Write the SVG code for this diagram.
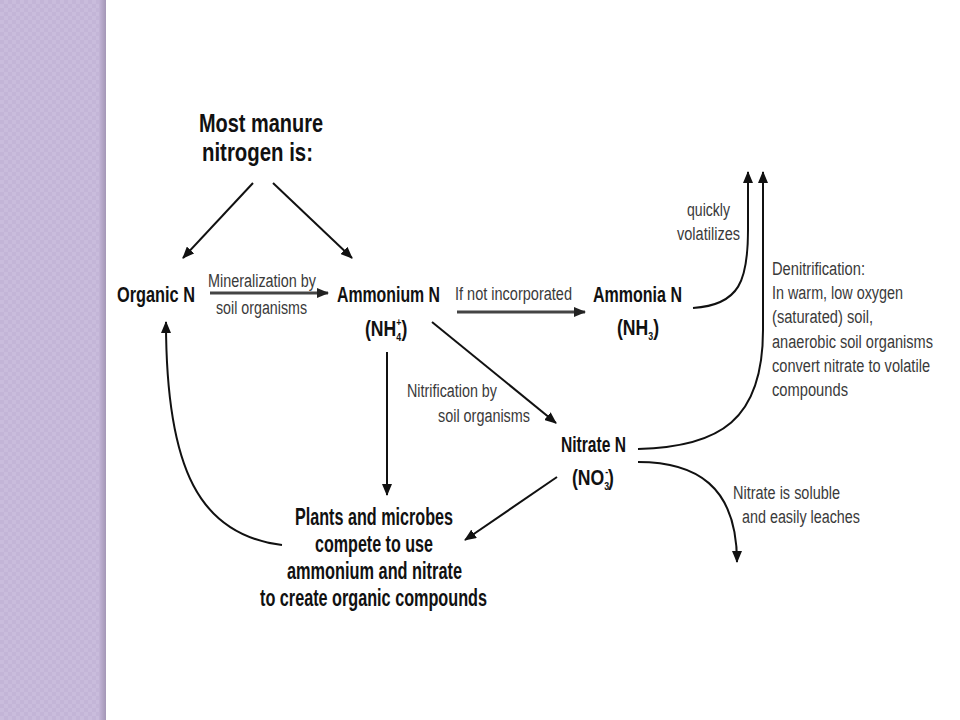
<svg xmlns="http://www.w3.org/2000/svg" width="960" height="720" viewBox="0 0 960 720">
<defs>
<pattern id="chk" width="8" height="8" patternUnits="userSpaceOnUse">
<rect width="8" height="8" fill="#c9bcdc"/>
<rect width="4" height="4" fill="#c3b5d7"/>
<rect x="4" y="4" width="4" height="4" fill="#c3b5d7"/>
</pattern>
<linearGradient id="edge" x1="0" x2="1" y1="0" y2="0">
<stop offset="0" stop-color="#c3b5d7"/>
<stop offset="1" stop-color="#a497b6"/>
</linearGradient>
<marker id="ah" viewBox="0 0 12 10" refX="11" refY="5" markerWidth="12" markerHeight="10" markerUnits="userSpaceOnUse" orient="auto">
<path d="M0,0 L12,5 L0,10 Z" fill="#111"/>
</marker>
<marker id="ahg" viewBox="0 0 12 10" refX="11" refY="5" markerWidth="12" markerHeight="10" markerUnits="userSpaceOnUse" orient="auto">
<path d="M0,0 L12,5 L0,10 Z" fill="#222"/>
</marker>
</defs>
<style>
.t{font-family:"Liberation Sans Narrow","Liberation Sans",Arial,sans-serif;font-weight:bold;fill:#111}
.ti{font-size:26px}
.nd{font-size:22px}
.pl{font-size:23px}
.sm{font-family:"Liberation Sans Narrow","Liberation Sans",Arial,sans-serif;font-size:18px;fill:#3a3a3a}
.sub{font-size:11px}
.ln{fill:none;stroke:#111;stroke-width:2}
.lg{fill:none;stroke:#444;stroke-width:3}
</style>
<rect width="960" height="720" fill="#fff"/>
<g id="sidebar">
<rect x="0" y="0" width="106" height="720" fill="url(#chk)"/>
<rect x="99" y="0" width="7" height="720" fill="url(#edge)"/>
</g>
<g id="connectors">
<path class="ln" d="M253,183 L183,258" marker-end="url(#ah)"/>
<path class="ln" d="M273,183 L352,258" marker-end="url(#ah)"/>
<path class="lg" d="M210,293 L328,293" marker-end="url(#ahg)"/>
<path class="lg" d="M457,312 L585,312" marker-end="url(#ahg)"/>
<path class="ln" d="M432,322 L556,423" marker-end="url(#ah)"/>
<path class="ln" d="M387,352 L387,495" marker-end="url(#ah)"/>
<path class="ln" d="M557,477 L465,540" marker-end="url(#ah)"/>
<path class="ln" d="M282,545 C200,535 166,470 166,322" marker-end="url(#ah)"/>
<path class="ln" d="M693,308 C740,305 748,280 748,230 L748,172" marker-end="url(#ah)"/>
<path class="ln" d="M638,449 C720,447 763,420 763,330 L763,172" marker-end="url(#ah)"/>
<path class="ln" d="M638,462 C695,462 737,485 737,562" marker-end="url(#ah)"/>
</g>
<g id="title">
<text class="t ti" x="199" y="132" textLength="124" lengthAdjust="spacingAndGlyphs">Most manure</text>
<text class="t ti" x="202" y="161" textLength="111" lengthAdjust="spacingAndGlyphs">nitrogen is:</text>
</g>
<g id="organic-n">
<text class="t nd" x="117" y="302" textLength="78" lengthAdjust="spacingAndGlyphs">Organic N</text>
</g>
<g id="mineralization-label">
<text class="sm" x="208" y="287" textLength="108" lengthAdjust="spacingAndGlyphs">Mineralization by</text>
<text class="sm" x="216" y="314" textLength="91" lengthAdjust="spacingAndGlyphs">soil organisms</text>
</g>
<g id="ammonium-n">
<text class="t nd" x="337" y="302" textLength="103" lengthAdjust="spacingAndGlyphs">Ammonium N</text>
<text class="t nd" transform="translate(365,336) scale(0.8,1)" x="0" y="0">(NH<tspan class="sub" dy="5">4</tspan><tspan class="sub" dx="-6" dy="-15">+</tspan><tspan dy="10">)</tspan></text>
</g>
<g id="incorporated-label">
<text class="sm" x="455" y="300" textLength="117" lengthAdjust="spacingAndGlyphs">If not incorporated</text>
</g>
<g id="ammonia-n">
<text class="t nd" x="593" y="302" textLength="89" lengthAdjust="spacingAndGlyphs">Ammonia N</text>
<text class="t nd" transform="translate(617,335) scale(0.8,1)" x="0" y="0">(NH<tspan class="sub" dy="5">3</tspan><tspan dy="-5">)</tspan></text>
</g>
<g id="volatilizes-label">
<text class="sm" x="687" y="216" textLength="43" lengthAdjust="spacingAndGlyphs">quickly</text>
<text class="sm" x="677" y="240" textLength="63" lengthAdjust="spacingAndGlyphs">volatilizes</text>
</g>
<g id="nitrification-label">
<text class="sm" x="407" y="397" textLength="90" lengthAdjust="spacingAndGlyphs">Nitrification by</text>
<text class="sm" x="438" y="422" textLength="92" lengthAdjust="spacingAndGlyphs">soil organisms</text>
</g>
<g id="nitrate-n">
<text class="t nd" x="561" y="452" textLength="65" lengthAdjust="spacingAndGlyphs">Nitrate N</text>
<text class="t nd" transform="translate(572,485) scale(0.8,1)" x="0" y="0">(NO<tspan class="sub" dy="5">3</tspan><tspan class="sub" dx="-5" dy="-15">-</tspan><tspan dy="10">)</tspan></text>
</g>
<g id="denitrification-label">
<text class="sm" x="772" y="275" textLength="93" lengthAdjust="spacingAndGlyphs">Denitrification:</text>
<text class="sm" x="772" y="299" textLength="131" lengthAdjust="spacingAndGlyphs">In warm, low oxygen</text>
<text class="sm" x="772" y="323" textLength="101" lengthAdjust="spacingAndGlyphs">(saturated) soil,</text>
<text class="sm" x="772" y="348" textLength="161" lengthAdjust="spacingAndGlyphs">anaerobic soil organisms</text>
<text class="sm" x="772" y="372" textLength="158" lengthAdjust="spacingAndGlyphs">convert nitrate to volatile</text>
<text class="sm" x="772" y="396" textLength="76" lengthAdjust="spacingAndGlyphs">compounds</text>
</g>
<g id="leaching-label">
<text class="sm" x="733" y="499" textLength="107" lengthAdjust="spacingAndGlyphs">Nitrate is soluble</text>
<text class="sm" x="742" y="523" textLength="118" lengthAdjust="spacingAndGlyphs">and easily leaches</text>
</g>
<g id="plants-microbes">
<text class="t pl" x="295" y="525" textLength="158" lengthAdjust="spacingAndGlyphs">Plants and microbes</text>
<text class="t pl" x="315" y="552" textLength="118" lengthAdjust="spacingAndGlyphs">compete to use</text>
<text class="t pl" x="287" y="579" textLength="175" lengthAdjust="spacingAndGlyphs">ammonium and nitrate</text>
<text class="t pl" x="260" y="606" textLength="227" lengthAdjust="spacingAndGlyphs">to create organic compounds</text>
</g>
</svg>
